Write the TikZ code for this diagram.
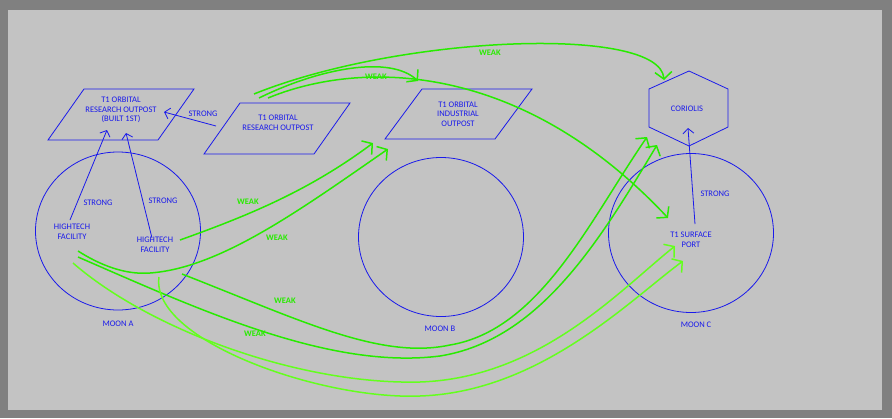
\documentclass[tikz,border=0pt]{standalone}
\usepackage{fontspec}
\setmainfont{Carlito}
\usetikzlibrary{arrows.meta,shapes.geometric}
\definecolor{bl}{RGB}{25,25,235}
\definecolor{ga}{RGB}{40,235,0}
\definecolor{gb}{RGB}{100,255,30}
\definecolor{bgin}{RGB}{195,195,195}
\definecolor{bgout}{RGB}{128,128,128}
\tikzset{
 x=1pt,y=-1pt,
 txt/.style={text=bl,font=\fontsize{8.5}{9.5}\selectfont,align=center,inner sep=0pt},
 wtxt/.style={text=ga,font=\bfseries\fontsize{8.5}{9.5}\selectfont,inner sep=0pt},
 shp/.style={draw=bl,line width=0.8pt},
 strongarr/.style={draw=bl,line width=0.8pt,-{Straight Barb[length=5pt,width=11pt]}},
 weakarr/.style={draw=#1,line width=1.5pt,-{Straight Barb[length=7pt,width=17pt]}},
}
\begin{document}
\begin{tikzpicture}
\fill[bgout] (0,0) rectangle (892,418);
\useasboundingbox (0,0) rectangle (892,418);
\fill[bgin] (8,10) rectangle (882,410);
% moons
\node[shp,ellipse,minimum width=165pt,minimum height=158pt] (mA) at (118,231) {};
\node[shp,ellipse,minimum width=165pt,minimum height=159pt] (mB) at (441,237) {};
\node[shp,ellipse,minimum width=165pt,minimum height=159pt] (mC) at (691,233) {};
\node[txt] (lA) at (118,324) {MOON A};
\node[txt] (lB) at (440,329) {MOON B};
\node[txt] (lC) at (696,325) {MOON C};
% parallelograms
\draw[shp] (84,89) -- (194,89) -- (158,140) -- (48,140) -- cycle;
\draw[shp] (240,103) -- (350,103) -- (314,154) -- (204,154) -- cycle;
\draw[shp] (422,89) -- (532,89) -- (495,139) -- (385,139) -- cycle;
\node[txt] (p1) at (121,110) {T1 ORBITAL\\RESEARCH OUTPOST\\(BUILT 1ST)};
\node[txt] (p2) at (278,123) {T1 ORBITAL\\RESEARCH OUTPOST};
\node[txt] (p3) at (458,114) {T1 ORBITAL\\INDUSTRIAL\\OUTPOST};
% hexagon
\draw[shp] (689,71) -- (728,89) -- (728,127) -- (689,146) -- (649,127) -- (649,89) -- cycle;
\node[txt] (cor) at (687,109) {CORIOLIS};
\node[txt] (hf1) at (72,232) {HIGHTECH\\FACILITY};
\node[txt] (hf2) at (155,245) {HIGHTECH\\FACILITY};
\node[txt] (sp) at (691,240) {T1 SURFACE\\PORT};
% coordinates
\coordinate (a1s) at (70,220); \coordinate (a1e) at (107,130);
\coordinate (a2s) at (152,238); \coordinate (a2e) at (126,133);
\coordinate (a3s) at (216,126); \coordinate (a3e) at (164,112);
\coordinate (a4s) at (695,224); \coordinate (a4e) at (688,128);
\draw[strongarr] (a1s) -- (a1e);
\draw[strongarr] (a2s) -- (a2e);
\draw[strongarr] (a3s) -- (a3e);
\draw[strongarr] (a4s) -- (a4e);
\node[txt] at (98,203) {STRONG};
\node[txt] at (163,201) {STRONG};
\node[txt] at (203,114) {STRONG};
\node[txt] at (715,194) {STRONG};
% weak arrows
\coordinate (t1) at (254,94); \coordinate (t2) at (259,98); \coordinate (t3) at (268,98);
\coordinate (ce1) at (664,80); \coordinate (pe) at (418,81); \coordinate (se0) at (668,218);
\draw[weakarr=ga] (t1) .. controls (400,35) and (660,25) .. (ce1);
\draw[weakarr=ga] (t2) .. controls (320,68) and (390,55) .. (pe);
\draw[weakarr=ga] (t3) .. controls (360,60) and (520,60) .. (se0);
\coordinate (f2) at (180,240); \coordinate (p3a) at (373,143); \coordinate (p3b) at (388,149);
\draw[weakarr=ga] (f2) .. controls (250,215) and (310,190) .. (p3a);
\draw[weakarr=ga] (78,251) .. controls (100,265) and (125,275) .. (150,273) .. controls (220,268) and (300,210) .. (p3b);
\coordinate (ca) at (647,137); \coordinate (cb) at (657,145);
\draw[weakarr=ga] (182,274) .. controls (300,320) and (380,360) .. (450,345) .. controls (540,330) and (590,220) .. (ca);
\draw[weakarr=ga] (78,257) .. controls (200,310) and (330,370) .. (440,356) .. controls (540,340) and (600,240) .. (cb);
\coordinate (sa) at (675,246); \coordinate (sb) at (683,261);
\draw[weakarr=gb] (73,263) .. controls (150,330) and (300,385) .. (420,382) .. controls (540,378) and (620,290) .. (sa);
\draw[weakarr=gb] (159,277) .. controls (150,340) and (320,400) .. (420,396) .. controls (540,392) and (630,300) .. (sb);
\node[wtxt] at (490,53) {WEAK};
\node[wtxt] at (376,77) {WEAK};
\node[wtxt] at (248,202) {WEAK};
\node[wtxt] at (277,238) {WEAK};
\node[wtxt] at (285,301) {WEAK};
\node[wtxt] at (255,334) {WEAK};
\end{tikzpicture}
\end{document}
